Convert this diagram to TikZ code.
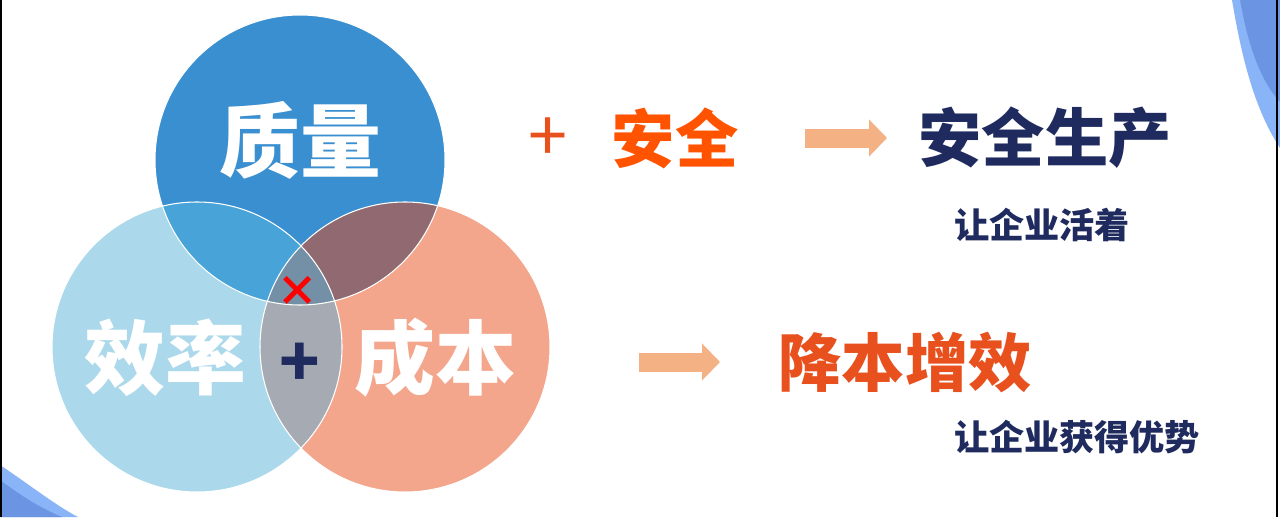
\documentclass[tikz,border=0pt]{standalone}
\usepackage{fontspec}
\usepackage{tikz}
\usetikzlibrary{arrows.meta}
\newfontfamily\cjk{Noto Sans CJK SC}
\definecolor{QBlue}{RGB}{58,143,208}
\definecolor{EBlue}{RGB}{171,217,235}
\definecolor{CSalmon}{RGB}{243,166,140}
\definecolor{QEBlue}{RGB}{71,163,216}
\definecolor{QCMauve}{RGB}{144,106,112}
\definecolor{ECGray}{RGB}{166,171,179}
\definecolor{AllSlate}{RGB}{115,144,166}
\definecolor{HotOrange}{RGB}{255,83,0}
\definecolor{DeepOrange}{RGB}{232,80,30}
\definecolor{InkNavy}{RGB}{31,43,94}
\definecolor{ArrowPeach}{RGB}{244,177,131}
\definecolor{WaveLight}{RGB}{138,180,248}
\definecolor{WaveDark}{RGB}{107,149,226}

\begin{document}
\begin{tikzpicture}[
          bigword/.style={font=\cjk\bfseries\fontsize{23}{23}\selectfont,
                          text=white, inner sep=0pt},
          headword/.style={font=\cjk\bfseries\fontsize{18}{18}\selectfont,
                           inner sep=0pt},
          subword/.style={font=\cjk\bfseries\fontsize{10}{10}\selectfont,
                          text=InkNavy, inner sep=0pt},
          flow/.style={ArrowPeach, line width=0.19cm,
                       -{Triangle[length=0.18cm, width=0.36cm]}}
        ]
        \useasboundingbox (0,0) rectangle (12.8,-5.17);
        \fill[white] (0,0) rectangle (12.8,-5.17);

        % Corner waves
        \fill[WaveLight] (12.32,0) .. controls (12.42,-0.6) and (12.55,-1.1) .. (12.8,-1.48)
              -- (12.8,0) -- cycle;
        \fill[WaveDark] (12.40,0) .. controls (12.48,-0.45) and (12.6,-0.8) .. (12.8,-1.02)
              -- (12.8,0) -- cycle;
        \fill[WaveLight] (0,-4.65) .. controls (0.3,-4.85) and (0.55,-5.05) .. (0.78,-5.17)
              -- (0,-5.17) -- cycle;
        \fill[WaveDark] (0,-4.80) .. controls (0.2,-4.95) and (0.4,-5.08) .. (0.62,-5.17)
              -- (0,-5.17) -- cycle;
        \draw[black, line width=0.02cm] (0.01,0) -- (0.01,-5.17);
        \draw[black, line width=0.02cm] (12.77,0) -- (12.77,-5.17);

        % Circles
        \def\rad{1.45}
        \coordinate (q) at (3.00,-1.60);
        \coordinate (e) at (1.97,-3.47);
        \coordinate (c) at (4.05,-3.47);
        \fill[QBlue] (q) circle (\rad);
        \fill[EBlue] (e) circle (\rad);
        \fill[CSalmon] (c) circle (\rad);

        % Overlaps
        \begin{scope}
          \clip (q) circle (\rad);
          \fill[QEBlue] (e) circle (\rad);
          \fill[QCMauve] (c) circle (\rad);
        \end{scope}
        \begin{scope}
          \clip (e) circle (\rad);
          \fill[ECGray] (c) circle (\rad);
          \clip (c) circle (\rad);
          \fill[AllSlate] (q) circle (\rad);
        \end{scope}
        \foreach \ctr in {q,e,c}{
          \draw[white, line width=0.3pt] (\ctr) circle (\rad);
        }

        % Circle labels
        \node[bigword] (zhiliang) at (3.00,-1.40) {质量};
        \node[bigword] (xiaolv) at (1.65,-3.58) {效率};
        \node[bigword] (chengben) at (4.35,-3.58) {成本};
        \node[font=\cjk\bfseries\fontsize{19}{19}\selectfont, text=InkNavy,
              inner sep=0pt] (plus) at (3.00,-3.65) {+};
        \node[font=\cjk\bfseries\fontsize{12}{12}\selectfont, text=red,
              inner sep=0pt] (cross) at (2.98,-2.91) {×};

        % Safety row
        \node[font=\cjk\fontsize{20}{20}\selectfont, text=DeepOrange,
              inner sep=0pt] (plusb) at (5.48,-1.40) {+};
        \node[headword, text=HotOrange] (anquan) at (6.75,-1.38) {安全};
        \coordinate (a1s) at (8.05,-1.38);
        \coordinate (a1e) at (8.87,-1.38);
        \draw[flow] (a1s) -- (a1e);
        \node[headword, text=InkNavy] (shengchan) at (10.45,-1.38) {安全生产};
        \node[subword] (huozhe) at (10.42,-2.25) {让企业活着};

        % Cost row
        \coordinate (a2s) at (6.39,-3.62);
        \coordinate (a2e) at (7.20,-3.62);
        \draw[flow] (a2s) -- (a2e);
        \node[headword, text=DeepOrange] (zengxiao) at (9.05,-3.62) {降本增效};
        \node[subword] (youshi) at (10.77,-4.37) {让企业获得优势};
      \end{tikzpicture}
\end{document}
